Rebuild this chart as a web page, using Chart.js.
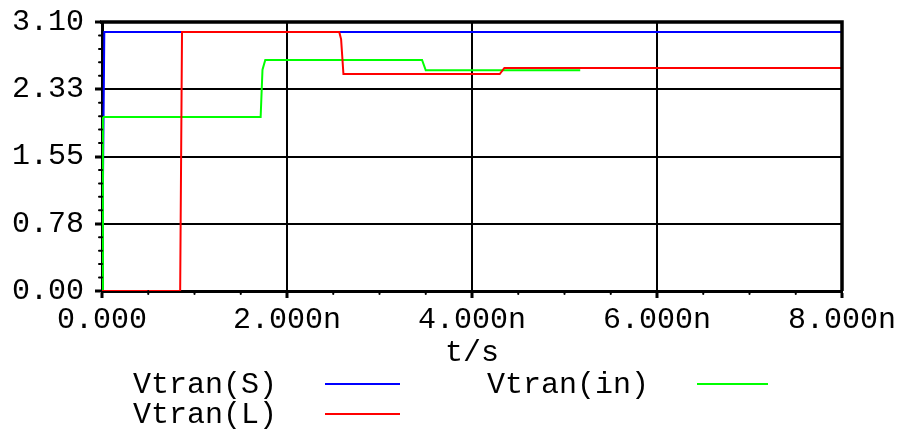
<!DOCTYPE html>
<html>
<head>
<meta charset="utf-8">
<script src="https://cdn.jsdelivr.net/npm/chart.js@4/dist/chart.umd.min.js"></script>
<style>
    html, body { margin: 0; padding: 0; background: #fff; }
    #wrap { width: 902px; height: 432px; }
</style>
</head>
<body>
<div id="wrap"><canvas id="tranChart" width="902" height="432"></canvas></div>
<script>
// time in ns, voltage in V
const sTime = [0, 0.025, 8];
const sVolt = [0, 2.985, 2.985];

const inTime = [0, 0.01, 1.715, 1.735, 1.765, 3.46, 3.50, 5.17];
const inVolt = [0, 2.005, 2.005, 2.55, 2.662, 2.662, 2.543, 2.543];

const lTime = [0, 0.845, 0.865, 2.565, 2.585, 2.61, 4.30, 4.35, 8];
const lVolt = [0, 0, 2.985, 2.985, 2.9, 2.5, 2.5, 2.57, 2.57];

const xTickValues = [0, 2, 4, 6, 8];
const xTickLabels = ['0.000', '2.000n', '4.000n', '6.000n', '8.000n'];
const yTickValues = [0, 0.775, 1.55, 2.325, 3.1];
const yTickLabels = ['0.00', '0.78', '1.55', '2.33', '3.10'];

const seriesNames = ['Vtran(S)', 'Vtran(in)', 'Vtran(L)'];
const seriesColors = ['#0000ff', '#00ff00', '#ff0000'];

const FONT = { family: '"Liberation Mono", "DejaVu Sans Mono", monospace', size: 30 };

function toPoints(xs, ys) {
    return xs.map((x, i) => ({ x: x, y: ys[i] }));
}

// minor ticks + closing frame on top/right
const framePlugin = {
    id: 'frame',
    afterDraw(chart) {
        const { ctx, chartArea: a, scales } = chart;
        ctx.save();
        ctx.strokeStyle = '#000';
        ctx.lineCap = 'round';
        ctx.lineWidth = 2;
        for (let i = 0; i < yTickValues.length - 1; i++) {
            const step = (yTickValues[i + 1] - yTickValues[i]) / 5;
            for (let k = 1; k < 5; k++) {
                const py = scales.y.getPixelForValue(yTickValues[i] + step * k);
                ctx.beginPath();
                ctx.moveTo(a.left - 3, py);
                ctx.lineTo(a.left, py);
                ctx.stroke();
            }
        }
        for (let i = 0; i < xTickValues.length - 1; i++) {
            const step = (xTickValues[i + 1] - xTickValues[i]) / 4;
            for (let k = 1; k < 4; k++) {
                const px = scales.x.getPixelForValue(xTickValues[i] + step * k);
                ctx.beginPath();
                ctx.moveTo(px, a.bottom);
                ctx.lineTo(px, a.bottom + 3);
                ctx.stroke();
            }
        }
        ctx.lineWidth = 3.5;
        ctx.lineCap = 'butt';
        ctx.beginPath();
        ctx.moveTo(a.left - 2, a.top);
        ctx.lineTo(a.right, a.top);
        ctx.lineTo(a.right, a.bottom);
        ctx.stroke();

        // legend: text then line sample
        const spots = [
            { tx: 133, lx1: 325, lx2: 400, y: 385 },
            { tx: 487, lx1: 697, lx2: 768, y: 385 },
            { tx: 133, lx1: 325, lx2: 400, y: 415 },
        ];
        ctx.font = FONT.size + 'px ' + FONT.family;
        ctx.textBaseline = 'middle';
        ctx.textAlign = 'left';
        chart.data.datasets.forEach((ds, i) => {
            const s = spots[i];
            ctx.fillStyle = '#000';
            ctx.fillText(ds.label, s.tx, s.y);
            ctx.strokeStyle = ds.borderColor;
            ctx.lineWidth = 2;
            ctx.beginPath();
            ctx.moveTo(s.lx1, s.y - 1);
            ctx.lineTo(s.lx2, s.y - 1);
            ctx.stroke();
        });
        ctx.restore();
    },
};

new Chart(document.getElementById('tranChart'), {
    type: 'line',
    data: {
        datasets: [
            { label: seriesNames[0], data: toPoints(sTime, sVolt), borderColor: seriesColors[0], order: 3 },
            { label: seriesNames[1], data: toPoints(inTime, inVolt), borderColor: seriesColors[1], order: 2 },
            { label: seriesNames[2], data: toPoints(lTime, lVolt), borderColor: seriesColors[2], order: 1 },
        ],
    },
    options: {
        responsive: false,
        animation: false,
        layout: { padding: { top: 22, right: 60, bottom: 61, left: 0 } },
        elements: {
            line: { borderWidth: 2, tension: 0 },
            point: { radius: 0 },
        },
        scales: {
            x: {
                type: 'linear',
                min: 0,
                max: 8,
                afterFit(scale) { scale.height = 80; scale.paddingLeft = 0; scale.paddingRight = 0; },
                afterBuildTicks(scale) { scale.ticks = xTickValues.map((v) => ({ value: v })); },
                ticks: {
                    font: FONT,
                    color: '#000',
                    padding: 4,
                    maxRotation: 0,
                    callback: (v) => xTickLabels[xTickValues.indexOf(v)],
                },
                grid: { color: '#000', lineWidth: 2, tickLength: 7, tickWidth: 3, tickColor: '#000' },
                border: { color: '#000', width: 3 },
                title: { display: true, text: 't/s', font: FONT, color: '#000', padding: 0 },
            },
            y: {
                min: 0,
                max: 3.1,
                afterFit(scale) { scale.width = 102; scale.paddingTop = 0; scale.paddingBottom = 0; },
                afterBuildTicks(scale) { scale.ticks = yTickValues.map((v) => ({ value: v })); },
                ticks: {
                    font: FONT,
                    color: '#000',
                    padding: 11,
                    callback: (v) => yTickLabels[yTickValues.indexOf(v)],
                },
                grid: { color: '#000', lineWidth: 2, tickLength: 7, tickWidth: 3, tickColor: '#000' },
                border: { color: '#000', width: 3 },
            },
        },
        plugins: {
            legend: { display: false },
            tooltip: { enabled: false },
        },
    },
    plugins: [framePlugin],
});
</script>
</body>
</html>
